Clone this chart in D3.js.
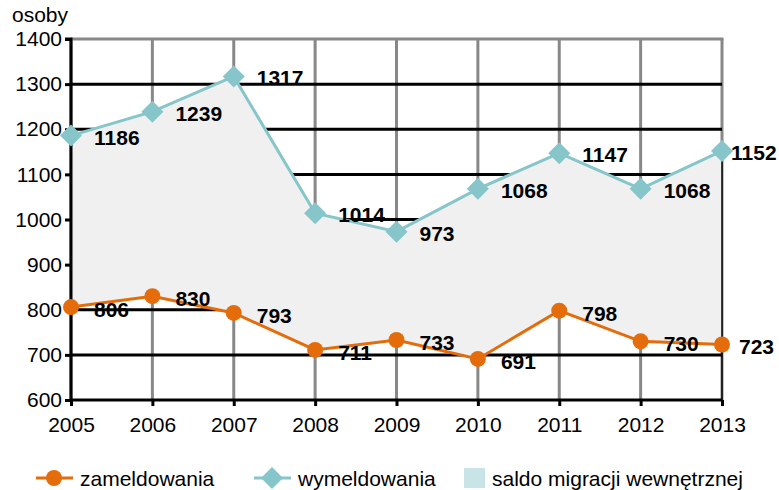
<!DOCTYPE html>
<html>
<head>
<meta charset="utf-8">
<script src="https://cdn.jsdelivr.net/npm/d3@7"></script>
<style>
  body { margin: 0; background: #fff; }
  svg text { font-family: "Liberation Sans", Arial, sans-serif; }
</style>
</head>
<body>
<div id="chart"></div>
<script>
// values
const years = ['2005', '2006', '2007', '2008', '2009', '2010', '2011', '2012', '2013'];
const zameldowania = [806, 830, 793, 711, 733, 691, 798, 730, 723];
const wymeldowania = [1186, 1239, 1317, 1014, 973, 1068, 1147, 1068, 1152];
const yTicks = [600, 700, 800, 900, 1000, 1100, 1200, 1300, 1400];
const legendLabels = ['zameldowania', 'wymeldowania', 'saldo migracji wewnętrznej'];

const W = 779, H = 490;
const orange = '#e46c0a', teal = '#86c6ca', areaFill = '#f0f0f0', swatch = '#c9e4e7';

const svg = d3.select('#chart').append('svg')
  .attr('width', W).attr('height', H);

const x = d3.scalePoint().domain(years).range([71, 722]);
const y = d3.scaleLinear().domain([600, 1400]).range([400, 39]);

// grid: vertical gray, horizontal black
const grid = svg.append('g');
grid.selectAll('line.v')
  .data(years)
  .join('line')
  .attr('x1', d => x(d)).attr('x2', d => x(d))
  .attr('y1', y(1400)).attr('y2', y(600))
  .attr('stroke', '#888').attr('stroke-width', 3);
grid.selectAll('line.h')
  .data(yTicks.filter(v => v > 600 && v < 1400))
  .join('line')
  .attr('x1', x(years[0])).attr('x2', x(years[years.length - 1]))
  .attr('y1', d => y(d)).attr('y2', d => y(d))
  .attr('stroke', '#000').attr('stroke-width', 3);
grid.append('line')
  .attr('x1', x(years[0])).attr('x2', x(years[years.length - 1]) + 1.5)
  .attr('y1', y(1400)).attr('y2', y(1400))
  .attr('stroke', '#888').attr('stroke-width', 3);

// saldo area between the two series
const rows = years.map((yr, i) => ({yr, z: zameldowania[i], w: wymeldowania[i]}));
const area = d3.area()
  .x(d => x(d.yr))
  .y0(d => y(d.z))
  .y1(d => y(d.w));
svg.append('path')
  .datum(rows)
  .attr('d', area)
  .attr('fill', areaFill);

// thin right edge below the last wymeldowania point
const last = rows[rows.length - 1];
svg.append('line')
  .attr('x1', x(last.yr)).attr('x2', x(last.yr))
  .attr('y1', y(last.w)).attr('y2', y(600))
  .attr('stroke', '#000').attr('stroke-width', 1.5);

// axes
const yAxis = svg.append('g')
  .attr('transform', `translate(${x(years[0])},0)`)
  .call(d3.axisLeft(y).tickValues(yTicks).tickFormat(d3.format('d')).tickSize(6).tickPadding(3));
const xAxis = svg.append('g')
  .attr('transform', `translate(0,${y(600)})`)
  .call(d3.axisBottom(x).tickSize(6).tickPadding(11));
[yAxis, xAxis].forEach(g => {
  g.select('.domain').attr('stroke', '#000').attr('stroke-width', 3);
  g.selectAll('.tick line').attr('stroke', '#000').attr('stroke-width', 3);
  g.selectAll('.tick text').attr('fill', '#000').style('font-size', '21px');
});
yAxis.select('.domain').attr('d', `M-6,${y(1400)}H0V${y(600)}`);
xAxis.select('.domain').attr('d', `M${x(years[0])},0H${x(years[years.length - 1])}`);

svg.append('text')
  .attr('x', 12).attr('y', 22)
  .style('font-size', '21px')
  .text('osoby');

// lines
const lineZ = d3.line().x(d => x(d.yr)).y(d => y(d.z));
const lineW = d3.line().x(d => x(d.yr)).y(d => y(d.w));
svg.append('path').datum(rows).attr('d', lineW)
  .attr('fill', 'none').attr('stroke', teal).attr('stroke-width', 3);
svg.append('path').datum(rows).attr('d', lineZ)
  .attr('fill', 'none').attr('stroke', orange).attr('stroke-width', 3);

const diamond = d3.symbol().type(d3.symbolSquare).size(242);
svg.selectAll('path.dw')
  .data(rows)
  .join('path')
  .attr('d', diamond)
  .attr('transform', d => `translate(${x(d.yr)},${y(d.w)}) rotate(45)`)
  .attr('fill', teal);
svg.selectAll('circle.dz')
  .data(rows)
  .join('circle')
  .attr('cx', d => x(d.yr)).attr('cy', d => y(d.z))
  .attr('r', 8)
  .attr('fill', orange);

// value labels, the last column sits closer to its point
const dxFor = (i, base) => i === years.length - 1 ? base : 23;
svg.selectAll('text.lw')
  .data(rows)
  .join('text')
  .attr('x', (d, i) => x(d.yr) + dxFor(i, 9))
  .attr('y', d => y(d.w) + 9)
  .style('font-size', '21px').style('font-weight', 'bold')
  .text(d => d.w);
svg.selectAll('text.lz')
  .data(rows)
  .join('text')
  .attr('x', (d, i) => x(d.yr) + dxFor(i, 17))
  .attr('y', d => y(d.z) + 10)
  .style('font-size', '21px').style('font-weight', 'bold')
  .text(d => d.z);

// legend
const lg = svg.append('g');
lg.append('line').attr('x1', 36).attr('x2', 73).attr('y1', 478).attr('y2', 478)
  .attr('stroke', orange).attr('stroke-width', 3);
lg.append('circle').attr('cx', 54).attr('cy', 478).attr('r', 8).attr('fill', orange);
lg.append('text').attr('x', 80).attr('y', 486).style('font-size', '21px').text(legendLabels[0]);

lg.append('line').attr('x1', 254).attr('x2', 291).attr('y1', 478).attr('y2', 478)
  .attr('stroke', teal).attr('stroke-width', 3);
lg.append('path').attr('d', diamond).attr('transform', 'translate(272,478) rotate(45)').attr('fill', teal);
lg.append('text').attr('x', 298).attr('y', 486).style('font-size', '21px').text(legendLabels[1]);

lg.append('rect').attr('x', 464).attr('y', 468).attr('width', 21).attr('height', 20).attr('fill', swatch);
lg.append('text').attr('x', 492).attr('y', 486).style('font-size', '21px').text(legendLabels[2]);
</script>
</body>
</html>
